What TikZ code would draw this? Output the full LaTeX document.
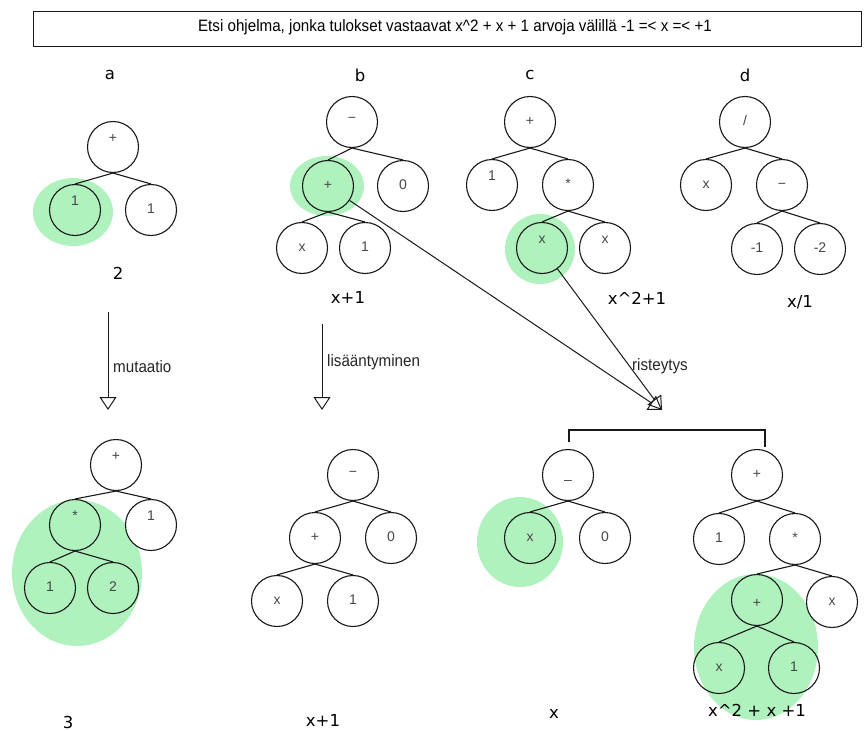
\documentclass[tikz,border=0pt]{standalone}
\usepackage{graphicx}
\usepackage{fontspec}
\setmainfont{Liberation Sans}
\newfontfamily\capfont{DejaVu Sans}
\usetikzlibrary{arrows.meta}
\definecolor{hl}{RGB}{175,242,190}
\definecolor{ink}{RGB}{25,25,25}
\newcommand{\narrow}[1]{\scalebox{0.92}[1]{#1}}
\begin{document}
\begin{tikzpicture}[x=1pt,y=-1pt,
  nd/.style={circle,draw=ink,line width=1.1pt,fill=white,minimum size=51pt,inner sep=0pt,
    text=black!72,font=\fontsize{14}{14}\selectfont,text height=7pt,text depth=0pt},
  hn/.style={nd,fill=none},
  up/.style={text depth=16pt},
  dn/.style={text height=19pt},
  br/.style={draw=ink,line width=1.1pt},
  glow/.style={fill=hl,draw=none},
  capt/.style={font=\capfont\fontsize{16.5}{16.5}\selectfont,text=black,inner sep=0pt},
  note/.style={font=\fontsize{16.5}{16.5}\selectfont,text=black!85,inner sep=0pt},
  arr/.style={draw=ink,line width=1pt,-{Triangle[open,length=13pt,width=17pt]}}]
\useasboundingbox (0,0) rectangle (865,731);

% task statement
\node[draw=ink,line width=1pt,minimum width=828pt,minimum height=35pt,inner sep=0pt] (title) at (447.5,28.5) {};
\node[font=\fontsize{16.5}{16.5}\selectfont,inner sep=0pt] (task) at (455,27)
  {\narrow{Etsi ohjelma, jonka tulokset vastaavat x\textasciicircum2 + x + 1 arvoja välillä -1 =< x =< +1}};

% column letters
\node[capt] (la) at (110,75) {a};
\node[capt] (lb) at (360,75) {b};
\node[capt] (lc) at (530,75) {c};
\node[capt] (ld) at (745,75) {d};

% highlighted subtrees
\fill[glow] (73,212) ellipse [x radius=40, y radius=34];
\fill[glow] (327,186) ellipse [x radius=37, y radius=30];
\fill[glow] (540,249) circle [radius=35];
\fill[glow] (77,573) ellipse [x radius=65, y radius=73];
\fill[glow] (520,542) ellipse [x radius=43, y radius=45];
\fill[glow] (756,647) ellipse [x radius=62, y radius=73];

% tree a
\node[nd,up] (a0) at (113,147) {+};
\node[hn,up] (a1) at (75,210) {1};
\node[nd] (a2) at (151,210) {1};
\draw[br] (a0.south) -- (a1.north);
\draw[br] (a0.south) -- (a2.north);
\node[capt] (va) at (118,273) {2};

% tree b
\node[nd,text depth=6pt] (b0) at (352,122) {−};
\node[hn] (b1) at (328,186) {+};
\node[nd] (b2) at (403,186) {0};
\node[nd] (b3) at (302,248) {x};
\node[nd] (b4) at (365,248) {1};
\draw[br] (b0.south) -- (b1.north);
\draw[br] (b0.south) -- (b2.north);
\draw[br] (b1.south) -- (b3.north);
\draw[br] (b1.south) -- (b4.north);
\node[capt] (vb) at (348,297) {x+1};

% tree c
\node[nd] (c0) at (530,122) {+};
\node[nd,up] (c1) at (492,185) {1};
\node[nd] (c2) at (568,185) {*};
\node[hn,up] (c3) at (542,248) {x};
\node[nd,up] (c4) at (605,248) {x};
\draw[br] (c0.south) -- (c1.north);
\draw[br] (c0.south) -- (c2.north);
\draw[br] (c2.south) -- (c3.north);
\draw[br] (c2.south) -- (c4.north);
\node[capt] (vc) at (637,298) {x\textasciicircum2+1};

% tree d
\node[nd] (d0) at (745,122) {/};
\node[nd] (d1) at (706,185) {x};
\node[nd] (d2) at (782,185) {−};
\node[nd] (d3) at (757,249) {-1};
\node[nd] (d4) at (820,249) {-2};
\draw[br] (d0.south) -- (d1.north);
\draw[br] (d0.south) -- (d2.north);
\draw[br] (d2.south) -- (d3.north);
\draw[br] (d2.south) -- (d4.north);
\node[capt] (vd) at (800,302) {x/1};

% operations
\coordinate (m0) at (108,312);
\coordinate (m1) at (108,410);
\draw[arr] (m0) -- (m1);
\node[note,anchor=west] (mt) at (113,367) {\narrow{mutaatio}};
\coordinate (r0) at (322,324);
\coordinate (r1) at (322,410);
\draw[arr] (r0) -- (r1);
\node[note,anchor=west] (rt) at (327,362) {\narrow{lisääntyminen}};
\coordinate (x1) at (662,410);
\draw[arr] (b1) -- (x1);
\draw[arr] (c3) -- (x1);
\node[note] (xt) at (660,366) {\narrow{risteytys}};

% offspring bracket
\coordinate (k0) at (569,442);
\coordinate (k1) at (569,430);
\coordinate (k2) at (765,430);
\coordinate (k3) at (765,447);
\draw[br,line width=1.3pt] (k0) -- (k1) -- (k2) -- (k3);

% mutated tree
\node[nd,up] (e0) at (116,465) {+};
\node[hn,up] (e1) at (75,525) {*};
\node[nd,up] (e2) at (151,525) {1};
\node[hn] (e3) at (50,588) {1};
\node[hn] (e4) at (113,588) {2};
\draw[br] (e0.south) -- (e1.north);
\draw[br] (e0.south) -- (e2.north);
\draw[br] (e1.south) -- (e3.north);
\draw[br] (e1.south) -- (e4.north);
\node[capt] (ve) at (68,722) {3};

% copied tree
\node[nd,text depth=4pt] (f0) at (353,475) {−};
\node[nd] (f1) at (315,538) {+};
\node[nd] (f2) at (391,538) {0};
\node[nd] (f3) at (277,601) {x};
\node[nd] (f4) at (353,601) {1};
\draw[br] (f0.south) -- (f1.north);
\draw[br] (f0.south) -- (f2.north);
\draw[br] (f1.south) -- (f3.north);
\draw[br] (f1.south) -- (f4.north);
\node[capt] (vf) at (323,720) {x+1};

% first offspring
\node[nd,dn] (g0) at (568,475) {–};
\node[hn] (g1) at (530,538) {x};
\node[nd] (g2) at (605,538) {0};
\draw[br] (g0.south) -- (g1.north);
\draw[br] (g0.south) -- (g2.north);
\node[capt] (vg) at (554,714) {x};

% second offspring
\node[nd] (h0) at (757,475) {+};
\node[nd] (h1) at (719,539) {1};
\node[nd] (h2) at (795,539) {*};
\node[hn,text height=14pt] (h3) at (757,600) {+};
\node[nd] (h4) at (832,602) {x};
\node[hn] (h5) at (719,668) {x};
\node[hn] (h6) at (794,668) {1};
\draw[br] (h0.south) -- (h1.north);
\draw[br] (h0.south) -- (h2.north);
\draw[br] (h2.south) -- (h3.north);
\draw[br] (h2.south) -- (h4.north);
\draw[br] (h3.south) -- (h5.north);
\draw[br] (h3.south) -- (h6.north);
\node[capt] (vh) at (757,710) {x\textasciicircum2 + x +1};
\end{tikzpicture}
\end{document}
